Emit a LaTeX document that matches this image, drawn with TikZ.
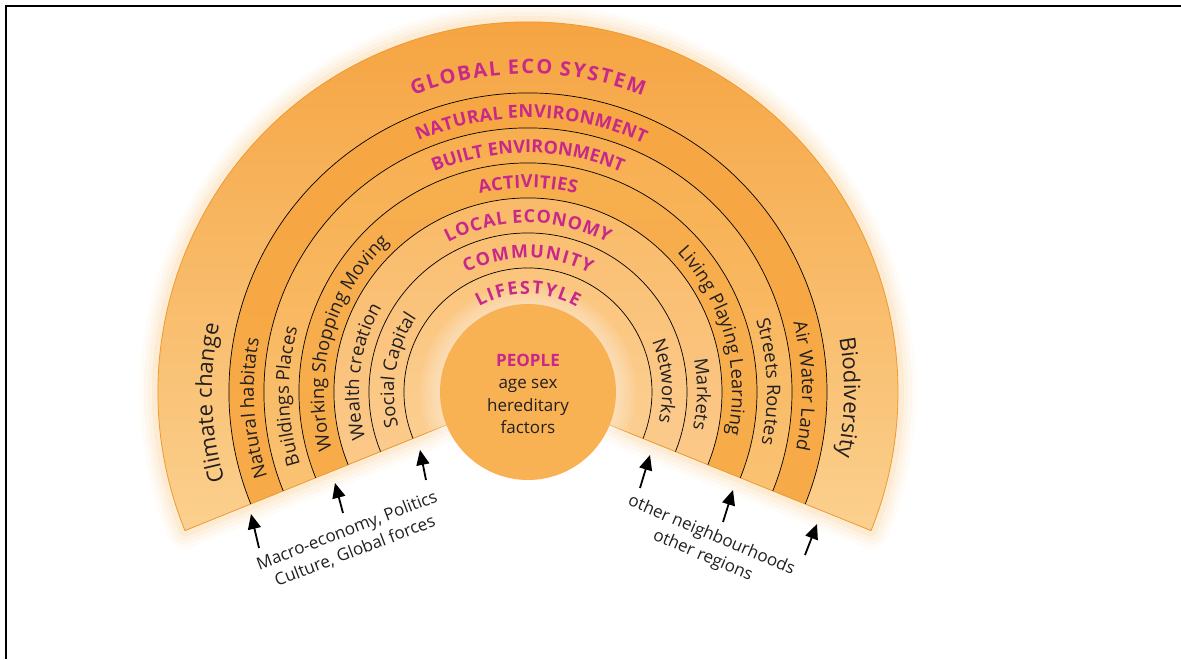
\documentclass[tikz,border=0pt]{standalone}
\usepackage{fontspec}
\setmainfont{Open Sans}
\usetikzlibrary{decorations.text,arrows.meta,calc}

\definecolor{magentaT}{HTML}{C8288A}
\definecolor{txt}{HTML}{231F20}
\definecolor{gTop}{HTML}{F5A03A}
\definecolor{gBot}{HTML}{FBD08E}
\definecolor{natTop}{HTML}{F6A541}
\definecolor{natBot}{HTML}{F7AB48}
\definecolor{bltTop}{HTML}{F7AC4C}
\definecolor{bltBot}{HTML}{FAC272}
\definecolor{actTop}{HTML}{F7AE4E}
\definecolor{actBot}{HTML}{F7AC49}
\definecolor{locTop}{HTML}{F9B965}
\definecolor{locBot}{HTML}{FBC98A}
\definecolor{comTop}{HTML}{FABE70}
\definecolor{comBot}{HTML}{FBCB8D}
\definecolor{lifTop}{HTML}{FBC47B}
\definecolor{lifBot}{HTML}{FBCE90}
\definecolor{peopleFill}{HTML}{F8B254}
\definecolor{edgeOrange}{HTML}{EE9A2E}
\definecolor{glowOrange}{HTML}{F7A53C}

% letter spacing for the ring titles
\newdimen\ttltrack
\newcommand\tk{\kern\ttltrack}

% label set along a clockwise arc of radius #1, centred on angle #2
\newcommand\arclabel[5]{%
  \path[decorate,decoration={text along path,text align=center,
        text color=#4,text={|#3|#5}}]
    (C) ++({#2+70}:#1) arc[start angle={#2+70},end angle={#2-70},radius=#1];%
}
% sector of the fan with radius #1
\newcommand\fansector[1]{(C) -- ++(202:#1) arc[start angle=202,end angle=-22,radius=#1] -- cycle}
\newcommand\ttlsize{\bfseries\fontsize{18}{18}\selectfont}
\newcommand\lblsize{\fontsize{18.5}{18.5}\selectfont}

\tikzset{
  ringline/.style={line width=0.7pt,draw=black},
  arr/.style={-{Triangle[length=15pt,width=13pt]},line width=1.8pt},
  sidelbl/.style={align=center,text=txt,font=\fontsize{17}{22}\selectfont},
}

\begin{document}
\begin{tikzpicture}[x=1pt,y=1pt]
\useasboundingbox (0,0) rectangle (1181,659);
\coordinate (C) at (528,267);

% soft glow behind the fan
\begin{scope}[shift={(5,-6)}]
  \foreach \w/\o in {36/0.04,28/0.05,20/0.07,12/0.09}{
    \draw[line width=\w pt,glowOrange,opacity=\o,line join=round] \fansector{370};
  }
\end{scope}

% rings, outermost first
\foreach \R/\ct/\cb in {370/gTop/gBot,299/natTop/natBot,264/bltTop/bltBot,
                        229/actTop/actBot,194/locTop/locBot,159/comTop/comBot,
                        124/lifTop/lifBot}{
  \shade[top color=\ct,bottom color=\cb] \fansector{\R};
}
\draw[edgeOrange,line width=0.8pt,line join=round] \fansector{370};
\foreach \r in {299,264,229,194,159,124}{
  \draw[ringline] (C) ++(202:\r) arc[start angle=202,end angle=-22,radius=\r];
}

% centre disc with its soft halo
\foreach \h in {108,105,102,99,96,93,90}{
  \fill[white,opacity=0.07] (C) circle (\h);
}
\fill[peopleFill] (C) circle (88);

% ring titles
\ttltrack=2pt
\arclabel{318}{90}{\bfseries\fontsize{20}{20}\selectfont}{magentaT}{{G\tk}{L\tk}{O\tk}{B\tk}{A\tk}{L\tk} {E\tk}{C\tk}{O\tk} {S\tk}{Y\tk}{S\tk}{T\tk}{E\tk}{M}}
\ttltrack=0.4pt
\arclabel{274}{89.3}{\ttlsize}{magentaT}{{N\tk}{A\tk}{T\tk}{U\tk}{R\tk}{A\tk}{L\tk} {E\tk}{N\tk}{V\tk}{I\tk}{R\tk}{O\tk}{N\tk}{M\tk}{E\tk}{N\tk}{T}}
\arclabel{239}{90}{\ttlsize}{magentaT}{BUILT ENVIRONMENT}
\ttltrack=0.35pt
\arclabel{204}{90}{\ttlsize}{magentaT}{{A\tk}{C\tk}{T\tk}{I\tk}{V\tk}{I\tk}{T\tk}{I\tk}{E\tk}{S}}
\ttltrack=0.9pt
\arclabel{169}{90}{\ttlsize}{magentaT}{{L\tk}{O\tk}{C\tk}{A\tk}{L\tk} {E\tk}{C\tk}{O\tk}{N\tk}{O\tk}{M\tk}{Y}}
\ttltrack=1.6pt
\arclabel{134}{90}{\ttlsize}{magentaT}{{C\tk}{O\tk}{M\tk}{M\tk}{U\tk}{N\tk}{I\tk}{T\tk}{Y}}
\ttltrack=1.8pt
\arclabel{98}{90}{\ttlsize}{magentaT}{{L\tk}{I\tk}{F\tk}{E\tk}{S\tk}{T\tk}{Y\tk}{L\tk}{E}}

% left-hand ring labels
\arclabel{316}{182}{\fontsize{22}{22}\selectfont}{txt}{Climate change}
\arclabel{274}{183.4}{\lblsize}{txt}{Natural habitats}
\arclabel{239}{181}{\lblsize}{txt}{Buildings Places}
\arclabel{204}{164.5}{\lblsize}{txt}{Working Shopping Moving}
\arclabel{169}{173}{\lblsize}{txt}{Wealth creation}
\arclabel{134}{170.5}{\lblsize}{txt}{Social Capital}

% right-hand ring labels
\arclabel{316}{-1}{\fontsize{22}{22}\selectfont}{txt}{Biodiversity}
\arclabel{274}{1.2}{\lblsize}{txt}{Air Water Land}
\arclabel{239}{2.5}{\lblsize}{txt}{Streets Routes}
\arclabel{204}{15.5}{\lblsize}{txt}{Living Playing Learning}
\arclabel{169}{-0.7}{\lblsize}{txt}{Markets}
\arclabel{134}{4.7}{\lblsize}{txt}{Networks}

% centre text
\node[align=center,text=txt,font=\fontsize{17}{22.5}\selectfont] (people) at (528,265)
  {\textcolor{magentaT}{\bfseries PEOPLE}\\age sex\\hereditary\\factors};

% outside influences
\node[sidelbl,rotate=21] (macro) at (351,118) {Macro-economy, Politics\\Culture, Global forces};
\node[sidelbl,rotate=-23] (neigh) at (707,113) {other neighbourhoods\\other regions};

\coordinate (a1s) at (259,111); \coordinate (a1e) at (251,145);
\coordinate (a2s) at (343,146); \coordinate (a2e) at (335,176);
\coordinate (a3s) at (426,179); \coordinate (a3e) at (420,209);
\coordinate (b1s) at (640,171); \coordinate (b1e) at (650,204);
\coordinate (b2s) at (723,137); \coordinate (b2e) at (733,169);
\coordinate (b3s) at (805,104); \coordinate (b3e) at (817,135);
\foreach \p in {a1,a2,a3,b1,b2,b3}{
  \draw[arr] (\p s) -- (\p e);
}

% frame
\draw[line width=2.3pt] (6,0) -- (6,653.3) -- (1181,653.3);
\end{tikzpicture}
\end{document}
